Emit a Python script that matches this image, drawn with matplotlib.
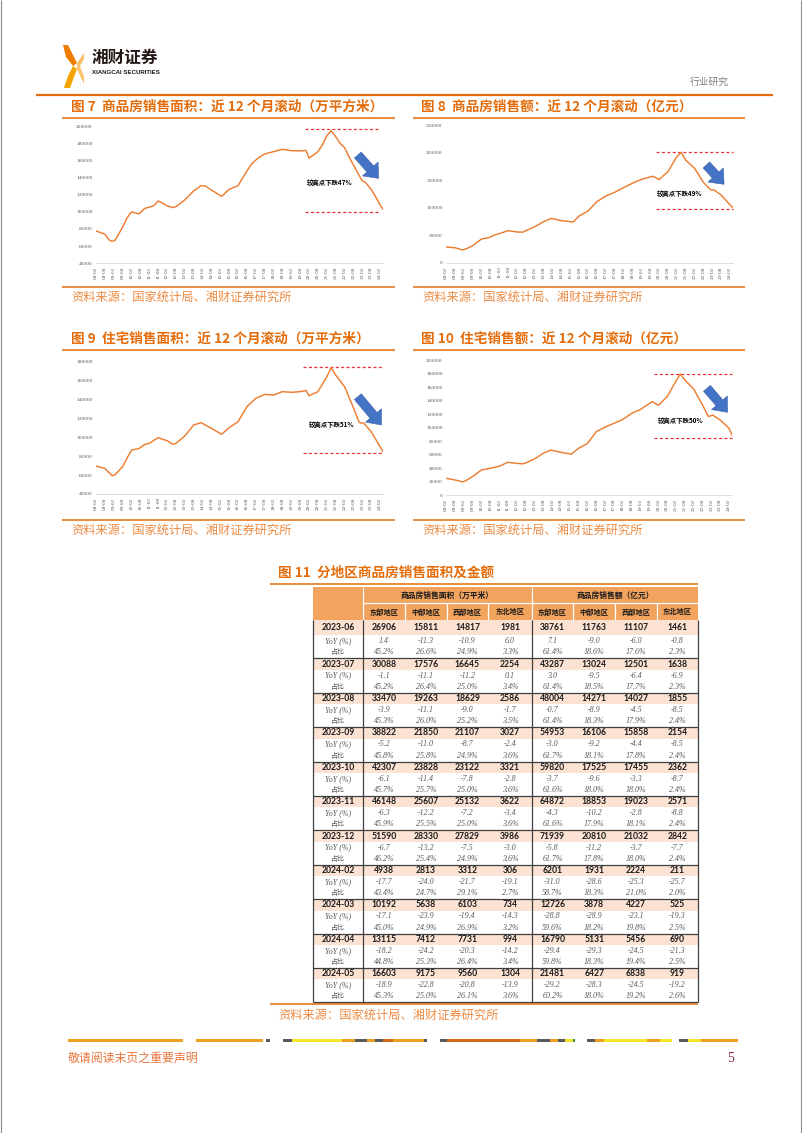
import datetime as dt
import matplotlib
matplotlib.use('Agg')
import matplotlib.pyplot as plt
import matplotlib.dates as mdates
from matplotlib.patches import Rectangle, Polygon
from matplotlib.ticker import FixedLocator, FixedFormatter

CJK = ['Noto Sans CJK SC', 'DejaVu Sans']
plt.rcParams['font.family'] = CJK
plt.rcParams['axes.unicode_minus'] = False

# ------------------------------------------------------------------ data
tick_months = ['2008-02', '2008-08', '2009-02', '2009-08', '2010-02', '2010-08', '2011-02', '2011-08',
               '2012-02', '2012-08', '2013-02', '2013-08', '2014-02', '2014-08', '2015-02', '2015-08',
               '2016-02', '2016-08', '2017-02', '2017-08', '2018-02', '2018-08', '2019-02', '2019-08',
               '2020-02', '2020-08', '2021-02', '2021-08', '2022-02', '2022-08', '2023-02', '2023-08',
               '2024-02']

# Fig 7: commercial housing sales area, rolling 12 months (10k m2)
c7_dates = ['2008-02', '2008-08', '2008-11', '2009-01', '2009-03', '2009-08', '2009-11', '2010-02',
            '2010-07', '2010-11', '2011-02', '2011-05', '2011-08', '2011-11', '2012-02', '2012-06',
            '2012-08', '2013-02', '2013-08', '2014-01', '2014-04', '2014-08', '2015-03', '2015-08',
            '2016-02', '2016-05', '2016-08', '2016-11', '2017-02', '2017-05', '2017-08', '2018-02',
            '2018-08', '2019-02', '2019-08', '2019-12', '2020-02', '2020-08', '2020-11', '2021-02',
            '2021-05', '2021-08', '2021-11', '2022-02', '2022-05', '2022-08', '2022-11', '2023-02',
            '2023-04', '2023-08', '2023-11', '2024-02', '2024-04']
c7_vals = [77700, 74000, 67000, 65500, 67000, 82000, 93000, 100000,
           97500, 104000, 105500, 107000, 112600, 110000, 107000, 104900,
           106000, 113800, 124300, 130500, 130100, 125400, 118000, 126200,
           130500, 139000, 147600, 155300, 160400, 164300, 167400, 170100,
           172800, 171300, 170900, 171500, 162500, 170100, 177900, 188700,
           194500, 187600, 179800, 174800, 164300, 154600, 144900, 136000,
           134500, 126200, 117700, 108000, 103000]

# Fig 8: commercial housing sales amount, rolling 12 months (100m yuan)
c8_dates = ['2008-02', '2008-08', '2009-01', '2009-04', '2009-08', '2009-11', '2010-02', '2010-07',
            '2010-11', '2011-02', '2011-08', '2012-02', '2012-06', '2012-08', '2013-02', '2013-08',
            '2014-01', '2014-08', '2015-02', '2015-04', '2015-08', '2016-02', '2016-08', '2017-02',
            '2017-08', '2018-02', '2018-08', '2019-02', '2019-10', '2020-02', '2020-08', '2021-02',
            '2021-05', '2021-08', '2022-02', '2022-08', '2022-11', '2023-01', '2023-03', '2023-08',
            '2024-02', '2024-04']
c8_vals = [29000, 27800, 23800, 26000, 31500, 37500, 43600, 46000,
           51000, 53300, 58700, 56300, 56000, 58700, 66000, 75000,
           81000, 76900, 75000, 74500, 85300, 94400, 111400, 121700,
           128300, 136800, 144700, 151900, 157500, 151500, 165800, 193100,
           201000, 187000, 171900, 146500, 138000, 132500, 133000, 123500,
           105300, 100500]

# Fig 9: residential sales area, rolling 12 months (10k m2)
c9_dates = ['2008-02', '2008-08', '2009-01', '2009-03', '2009-08', '2009-11', '2010-02', '2010-07',
            '2010-11', '2011-02', '2011-08', '2012-02', '2012-06', '2012-08', '2013-02', '2013-08',
            '2014-01', '2014-08', '2015-03', '2015-08', '2016-02', '2016-08', '2017-02', '2017-08',
            '2018-02', '2018-08', '2019-02', '2019-08', '2019-12', '2020-02', '2020-08', '2021-02',
            '2021-05', '2021-08', '2022-02', '2022-08', '2022-12', '2023-03', '2023-08', '2024-02',
            '2024-04']
c9_vals = [69600, 67100, 59200, 60500, 68900, 78000, 86500, 88000,
           92500, 93600, 99600, 96400, 92600, 93500, 101400, 113000,
           115500, 109500, 103200, 110200, 116500, 132400, 141200, 145400,
           144700, 148300, 147600, 148300, 149500, 144000, 148300, 164100,
           173700, 165900, 153500, 131300, 115500, 115000, 106000, 90100,
           84800]

# Fig 10: residential sales amount, rolling 12 months (100m yuan)
c10_dates = ['2008-02', '2008-08', '2009-01', '2009-03', '2009-08', '2010-02', '2010-07', '2011-02',
             '2011-08', '2012-02', '2012-06', '2012-08', '2013-02', '2013-08', '2014-01', '2014-08',
             '2015-03', '2015-08', '2016-02', '2016-08', '2017-02', '2017-08', '2018-02', '2018-08',
             '2019-02', '2019-10', '2020-02', '2020-08', '2021-02', '2021-05', '2021-08', '2022-02',
             '2022-08', '2022-12', '2023-03', '2023-08', '2024-02', '2024-04']
c10_vals = [25100, 22700, 20000, 21000, 27600, 37400, 39500, 42900,
            48800, 47300, 46500, 47800, 53700, 62100, 66800, 63500,
            60800, 69500, 76800, 94100, 101000, 106400, 112300, 121200,
            127100, 138500, 133000, 145800, 169000, 179300, 170400, 157100,
            133500, 116500, 118500, 111300, 99000, 89200]

# annotations: (peak level, low level, dashed start, dashed end, note, note month, note value,
#               arrow start month, arrow start value, arrow end month, arrow end value)
c7_note = (196900, 100200, '2019-11', '2024-02', '较高点下跌47%', '2021-04', 134000,
           '2022-11', 166200, '2024-01', 139000)
c8_note = (201000, 97500, '2019-12', '2024-04', '较高点下跌49%', '2021-04', 125300,
           '2022-10', 178000, '2023-10', 142900)
c9_note = (174000, 83700, '2019-10', '2024-04', '较高点下跌51%', '2021-05', 113700,
           '2022-11', 143000, '2024-03', 113000)
c10_note = (179800, 84700, '2019-11', '2024-04', '较高点下跌50%', '2021-05', 110300,
            '2022-11', 158100, '2024-01', 122700)

# Fig 11 table
periods = ['2023-06', '2023-07', '2023-08', '2023-09', '2023-10', '2023-11', '2023-12',
           '2024-02', '2024-03', '2024-04', '2024-05']
regions = ['东部地区', '中部地区', '西部地区', '东北地区']
area_val = [[26906, 15811, 14817, 1981], [30088, 17576, 16645, 2254], [33470, 19263, 18629, 2586],
            [38822, 21850, 21107, 3027], [42307, 23828, 23122, 3321], [46148, 25607, 25132, 3622],
            [51590, 28330, 27829, 3986], [4938, 2813, 3312, 306], [10192, 5638, 6103, 734],
            [13115, 7412, 7731, 994], [16603, 9175, 9560, 1304]]
area_yoy = [[1.4, -11.3, -10.9, 6.0], [-1.1, -11.1, -11.2, 0.1], [-3.9, -11.1, -9.0, -1.7],
            [-5.2, -11.0, -8.7, -2.4], [-6.1, -11.4, -7.8, -2.8], [-6.3, -12.2, -7.2, -3.4],
            [-6.7, -13.2, -7.5, -3.0], [-17.7, -24.0, -21.7, -19.1], [-17.1, -23.9, -19.4, -14.3],
            [-18.2, -24.2, -20.3, -14.2], [-18.9, -22.8, -20.8, -13.9]]
area_share = [[45.2, 26.6, 24.9, 3.3], [45.2, 26.4, 25.0, 3.4], [45.3, 26.0, 25.2, 3.5],
              [45.8, 25.8, 24.9, 3.6], [45.7, 25.7, 25.0, 3.6], [45.9, 25.5, 25.0, 3.6],
              [46.2, 25.4, 24.9, 3.6], [43.4, 24.7, 29.1, 2.7], [45.0, 24.9, 26.9, 3.2],
              [44.8, 25.3, 26.4, 3.4], [45.3, 25.0, 26.1, 3.6]]
amt_val = [[38761, 11763, 11107, 1461], [43287, 13024, 12501, 1638], [48004, 14271, 14027, 1855],
           [54953, 16106, 15858, 2154], [59820, 17525, 17455, 2362], [64872, 18853, 19023, 2571],
           [71939, 20810, 21032, 2842], [6201, 1931, 2224, 211], [12726, 3878, 4227, 525],
           [16790, 5131, 5456, 690], [21481, 6427, 6838, 919]]
amt_yoy = [[7.1, -9.0, -6.0, -0.8], [3.0, -9.5, -6.4, -6.9], [-0.7, -8.9, -4.5, -8.5],
           [-3.0, -9.2, -4.4, -8.5], [-3.7, -9.6, -3.3, -8.7], [-4.3, -10.2, -2.8, -8.8],
           [-5.8, -11.2, -3.7, -7.7], [-31.0, -28.6, -25.3, -25.7], [-28.8, -28.9, -23.1, -19.3],
           [-29.4, -29.3, -24.5, -21.3], [-29.2, -28.3, -24.5, -19.2]]
amt_share = [[61.4, 18.6, 17.6, 2.3], [61.4, 18.5, 17.7, 2.3], [61.4, 18.3, 17.9, 2.4],
             [61.7, 18.1, 17.8, 2.4], [61.6, 18.0, 18.0, 2.4], [61.6, 17.9, 18.1, 2.4],
             [61.7, 17.8, 18.0, 2.4], [58.7, 18.3, 21.0, 2.0], [59.6, 18.2, 19.8, 2.5],
             [59.8, 18.3, 19.4, 2.5], [60.2, 18.0, 19.2, 2.6]]

# ------------------------------------------------------------------ page
W, H = 802, 1133
fig = plt.figure(figsize=(W / 100, H / 100), dpi=100)
page = fig.add_axes([0, 0, 1, 1])
page.set_xlim(0, W)
page.set_ylim(H, 0)
page.axis('off')

ORANGE = '#E46C0A'
SRC = '#EC8B43'
LINEC = '#ED7D31'
GRAY = '#595959'


def tonum(s):
    return mdates.date2num(dt.datetime(int(s[:4]), int(s[5:7]), 1))


def hline(y, x0, x1, color=ORANGE, lw=1.0, z=2):
    page.plot([x0, x1], [y, y], color=color, lw=lw, solid_capstyle='butt', zorder=z)


def vline(x, y0, y1, color, lw=0.8, z=3):
    page.plot([x, x], [y0, y1], color=color, lw=lw, solid_capstyle='butt', zorder=z)


# page borders
vline(0.6, 0, H, '#8C8C8C', 0.8)
vline(800.6, 0, H, '#8C8C8C', 0.8)

# logo
page.add_patch(Polygon([(63, 45), (68, 45), (77, 63), (73, 66), (66, 57)], closed=True,
                       fc='#EE7D00', ec='none'))
page.add_patch(Polygon([(73, 66), (77, 69), (70, 88), (64, 88), (68, 76)], closed=True,
                       fc='#F5A300', ec='none'))
page.add_patch(Polygon([(77, 63), (84, 53), (84, 59), (80, 66), (84, 77), (84, 84), (77, 69)],
                       closed=True, fc='#F9C26A', ec='none'))
page.text(92, 58, '湘财证券', fontsize=12, fontweight='bold', color='#231815', va='center', ha='left')
page.text(92, 73, 'XIANGCAI SECURITIES', fontsize=4.4, fontweight='bold', color='#231815',
          va='center', ha='left', family='Liberation Sans')
page.text(729, 82, '行业研究', fontsize=7, color='#808080', va='center', ha='right')
hline(95, 36, 773, ORANGE, 1.6)

# chart titles / rules / sources
titles = [(71, 107, '图 7  商品房销售面积：近 12 个月滚动（万平方米）'),
          (421, 107, '图 8  商品房销售额：近 12 个月滚动（亿元）'),
          (71, 339, '图 9  住宅销售面积：近 12 个月滚动（万平方米）'),
          (421, 339, '图 10  住宅销售额：近 12 个月滚动（亿元）')]
for x, y, t in titles:
    page.text(x, y, t, fontsize=9.8, fontweight='bold', color=ORANGE, va='center', ha='left')
for y0, y1, ys in [(118, 287, 297), (350, 519.5, 530)]:
    for xa, xb in [(62, 395), (413, 745)]:
        hline(y0, xa, xb, ORANGE, 1.1)
        hline(y1, xa, xb, ORANGE, 1.1)
        page.text(xa + 9, ys, '资料来源：国家统计局、湘财证券研究所', fontsize=8.8, color=SRC,
                  va='center', ha='left')


def draw_chart(rect, dates, vals, ylim, ystep, note):
    x0, ytop, x1, ybot = rect
    ax = fig.add_axes([x0 / W, 1 - ybot / H, (x1 - x0) / W, (ybot - ytop) / H])
    ax.patch.set_alpha(0)
    xs = [tonum(d) for d in dates]
    ax.plot(xs, vals, color=LINEC, lw=1.05, solid_joinstyle='round', zorder=3)
    ax.set_xlim(xs[0], xs[-1])
    ax.set_ylim(*ylim)
    yt = list(range(ylim[0], ylim[1] + 1, ystep))
    ax.set_yticks(yt)
    ax.set_yticklabels([str(v) for v in yt], family='Liberation Serif', fontsize=3.9, color=GRAY)
    ax.xaxis.set_major_locator(FixedLocator([tonum(m) for m in tick_months]))
    ax.xaxis.set_major_formatter(FixedFormatter([m[2:4] + '-' + m[5:7] for m in tick_months]))
    for lab in ax.get_xticklabels():
        lab.set_rotation(90)
        lab.set_fontsize(3.7)
        lab.set_family('Liberation Serif')
        lab.set_color(GRAY)
    ax.tick_params(axis='both', length=0, pad=2.5)
    for s in ['top', 'right', 'left']:
        ax.spines[s].set_visible(False)
    ax.spines['bottom'].set_color('#D9D9D9')
    ax.spines['bottom'].set_linewidth(0.6)
    (hi, lo, d0, d1, txt, nm, nv, as_m, as_v, ae_m, ae_v) = note
    for lvl in (hi, lo):
        ax.plot([tonum(d0), tonum(d1)], [lvl, lvl], color='#E8383D', lw=0.9,
                dashes=(2.5, 1.8), zorder=2, clip_on=False)
    ax.text(tonum(nm), nv, txt, fontsize=4.6, fontweight='bold', color='black',
            ha='center', va='center', zorder=4)
    ax.annotate('', xy=(tonum(ae_m), ae_v), xytext=(tonum(as_m), as_v),
                arrowprops=dict(arrowstyle='simple,head_length=0.9,head_width=1.5,tail_width=0.65',
                                fc='#4472C4', ec='#3A62AC', lw=0.4, mutation_scale=10,
                                shrinkA=0, shrinkB=0),
                annotation_clip=False, zorder=5)
    return ax


draw_chart((96, 126, 383, 263.3), c7_dates, c7_vals, (40000, 200000), 20000, c7_note)
draw_chart((446, 125.3, 733, 263), c8_dates, c8_vals, (0, 250000), 50000, c8_note)
draw_chart((96, 361.7, 383, 494), c9_dates, c9_vals, (40000, 180000), 20000, c9_note)
draw_chart((446, 360, 732, 495.3), c10_dates, c10_vals, (0, 200000), 20000, c10_note)

# ------------------------------------------------------------------ table
page.text(278, 573, '图 11  分地区商品房销售面积及金额', fontsize=9.8, fontweight='bold', color=ORANGE,
          va='center', ha='left')
hline(584, 270, 698, ORANGE, 1.1)

HDR = '#F2A35E'
PEACH = '#FBE2D2'
DARK = '#404040'
edges = [313.3, 363.3, 405, 446.7, 488.3, 531.7, 573.3, 615, 656.7, 698.3]
centers = [(edges[i] + edges[i + 1]) / 2 for i in range(len(edges) - 1)]
hy0, hy1, hy2 = 587, 603.3, 620.3

page.add_patch(Rectangle((edges[0], hy0), edges[-1] - edges[0], hy2 - hy0, fc=HDR, ec='none', zorder=1))
hline(hy1, edges[1], edges[-1], 'white', 0.9, 3)
for xe in (edges[1], edges[5]):
    vline(xe, hy0, hy2, 'white', 0.9)
for xe in edges[2:5] + edges[6:9]:
    vline(xe, hy1, hy2, 'white', 0.9)
page.text((edges[1] + edges[5]) / 2, (hy0 + hy1) / 2, '商品房销售面积（万平米）', fontsize=5.6,
          fontweight='bold', ha='center', va='center', color='#1A1A1A', zorder=4)
page.text((edges[5] + edges[9]) / 2, (hy0 + hy1) / 2, '商品房销售额（亿元）', fontsize=5.6,
          fontweight='bold', ha='center', va='center', color='#1A1A1A', zorder=4)
for g in range(2):
    for j, r in enumerate(regions):
        page.text(centers[1 + g * 4 + j], (hy1 + hy2) / 2, r, fontsize=5.2, fontweight='bold',
                  ha='center', va='center', color='#1A1A1A', zorder=4)

tops = [hy2] + [658.3 + i * 34.41 for i in range(len(periods))]
for k, p in enumerate(periods):
    top, nxt = tops[k], tops[k + 1]
    vbot = nxt - 23
    page.add_patch(Rectangle((edges[0], top), edges[-1] - edges[0], vbot - top, fc=PEACH,
                             ec='none', zorder=1))
    if k > 0:
        hline(top, edges[0], edges[-1], DARK, 0.9, 3)
    yv, yy, ys = (top + vbot) / 2, nxt - 17.2, nxt - 6
    page.text(centers[0], yv, p, fontsize=6.2, fontweight='bold', family='Lato',
              ha='center', va='center', color='#1A1A1A', zorder=4)
    page.text(centers[0], yy, 'YoY (%)', fontsize=5.8, style='italic', family='Liberation Serif',
              ha='center', va='center', color=GRAY, zorder=4)
    page.text(centers[0], ys, '占比', fontsize=5.0, ha='center', va='center', color=GRAY, zorder=4)
    rows = [(area_val, area_yoy, area_share, 1), (amt_val, amt_yoy, amt_share, 5)]
    for vals, yoys, shares, c0 in rows:
        for j in range(4):
            cx = centers[c0 + j]
            page.text(cx, yv, str(vals[k][j]), fontsize=6.2, fontweight='bold', family='Lato',
                      ha='center', va='center', color='#1A1A1A', zorder=4)
            page.text(cx, yy, f'{yoys[k][j]:.1f}', fontsize=5.8, style='italic',
                      family='Liberation Serif', ha='center', va='center', color=GRAY, zorder=4)
            page.text(cx, ys, f'{shares[k][j]:.1f}%', fontsize=5.8, style='italic',
                      family='Liberation Serif', ha='center', va='center', color=GRAY, zorder=4)
tbot = tops[-1]
hline(tbot, edges[0], edges[-1], DARK, 0.9, 3)
for xe in (edges[0], edges[1], edges[5], edges[-1]):
    vline(xe, hy2, tbot, DARK, 0.9)
hline(1004, 270, 698, ORANGE, 1.1)
page.text(278, 1015.5, '资料来源：国家统计局、湘财证券研究所', fontsize=8.8, color=SRC, va='center', ha='left')

# ------------------------------------------------------------------ footer
O, Y, D, R, G2 = '#F0A020', '#F5E62A', '#5A5A5A', '#D2691E', '#3C8C3C'
footer_segments = [(68, 183, O), (196, 263, O), (266, 270, D), (283, 292, D), (292, 342, Y),
                   (342, 355, O), (355, 367, D), (367, 375, O), (375, 383, D), (383, 393, R),
                   (393, 424, O), (424, 427, D), (440, 447, D), (447, 520, R), (520, 537, O),
                   (537, 550, D), (550, 558, O), (558, 565, D), (565, 573, Y), (573, 575, G2),
                   (587, 595, D), (595, 604, O), (604, 647, Y), (647, 660, O), (660, 672, Y),
                   (679, 688, D), (688, 701, Y), (701, 738, O)]
for a, b, c in footer_segments:
    page.add_patch(Rectangle((a, 1038.5), b - a, 3.5, fc=c, ec='none'))
page.text(68, 1058, '敬请阅读末页之重要声明', fontsize=8.6, color='#E8743B', va='center', ha='left')
page.text(731, 1058, '5', fontsize=10, color='#8B2252', va='center', ha='center', family='Liberation Serif')

fig.savefig('out.png', dpi=100)
